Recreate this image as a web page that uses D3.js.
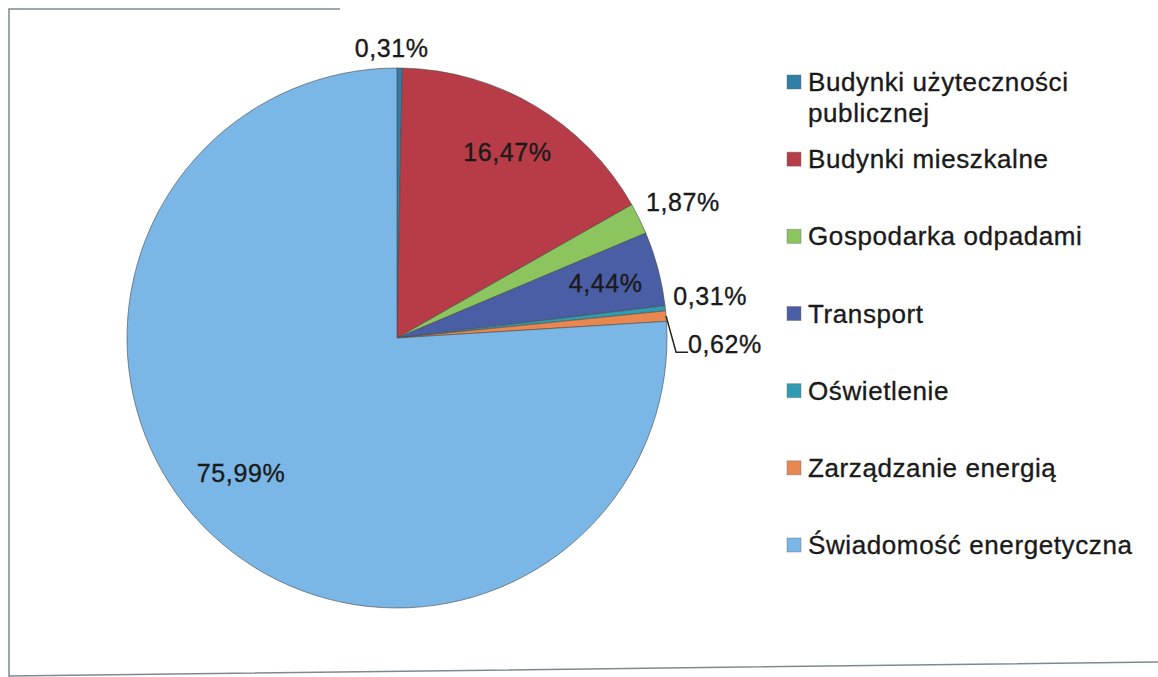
<!DOCTYPE html>
<html>
<head>
<meta charset="utf-8">
<script src="https://cdn.jsdelivr.net/npm/d3@7"></script>
<style>
  body { margin: 0; background: #fff; }
  text { font-family: "Liberation Sans", Arial, sans-serif; fill: #1a1a1a; stroke: #1a1a1a; stroke-width: 0.35px; }
</style>
</head>
<body>
<script>
w = 1158;
h = 677;

// data
categories = [
  'Budynki użyteczności publicznej',
  'Budynki mieszkalne',
  'Gospodarka odpadami',
  'Transport',
  'Oświetlenie',
  'Zarządzanie energią',
  'Świadomość energetyczna'
];
values = [0.31, 16.47, 1.87, 4.44, 0.31, 0.62, 75.99];
labels = ['0,31%', '16,47%', '1,87%', '4,44%', '0,31%', '0,62%', '75,99%'];
colors = ['#2f7fa8', '#b73c48', '#8cc45e', '#4a5ea6', '#2e9db3', '#e8874f', '#7ab6e6'];

cx = 397;
cy = 338;
r = 270;

let svg = d3.select('body')
  .append('svg')
  .attr('width', w)
  .attr('height', h);

// scanned frame: left edge, short top edge, slightly tilted bottom edge
svg.append('path')
  .attr('d', 'M340,9 L9,9 L9,677 M9,676 L1158,662')
  .attr('fill', 'none')
  .attr('stroke', '#80898e')
  .attr('stroke-width', 1.5);

let pie = d3.pie().sort(null).value(d => d);
let arcs = pie(values);

let arc = d3.arc().innerRadius(0).outerRadius(r);
let inner = d3.arc().innerRadius(r * 0.8).outerRadius(r * 0.8);

let g = svg.append('g').attr('transform', `translate(${cx}, ${cy})`);

g.selectAll('path')
  .data(arcs)
  .enter()
  .append('path')
  .attr('d', arc)
  .attr('fill', (d, i) => colors[i])
  .attr('stroke', '#4a4a4a')
  .attr('stroke-opacity', 0.6)
  .attr('stroke-width', 1);

// big slices get the label inside, small ones outside
let isInside = d => (d.endAngle - d.startAngle) > 0.2;
let mid = d => (d.startAngle + d.endAngle) / 2;
let nudge = { 5: 38 }; // 0,62% pushed down with a leader line

let lab = g.selectAll('text.lab')
  .data(arcs)
  .enter()
  .append('text')
  .attr('class', 'lab')
  .style('font-size', '25px')
  .style('letter-spacing', '0.6px')
  .text((d, i) => labels[i]);

lab.each(function(d, i) {
  let t = d3.select(this);
  if (isInside(d)) {
    let c = inner.centroid(d);
    if (i === 6) c = [c[0] - 8, c[1] - 22];
    t.attr('x', c[0]).attr('y', c[1] + 9).attr('text-anchor', 'middle');
  } else {
    let a = mid(d);
    let px = Math.sin(a) * (r + 12);
    let py = -Math.cos(a) * (r + 12);
    if (Math.abs(Math.sin(a)) < 0.3) {
      t.attr('x', px - 8).attr('y', py + 1).attr('text-anchor', 'middle');
    } else {
      let dy = nudge[i] || 0;
      t.attr('x', px - 4 + (dy ? 14 : 0)).attr('y', py + dy + (dy ? 0 : -2)).attr('text-anchor', 'start');
      if (dy) {
        let ex = Math.sin(a) * r, ey = -Math.cos(a) * r;
        g.append('path')
          .attr('d', `M${ex},${ey} L${px - 2},${py + dy - 1} L${px + 10},${py + dy - 1}`)
          .attr('fill', 'none')
          .attr('stroke', '#222')
          .attr('stroke-width', 1.5);
      }
    }
  }
});

// legend
let legendY = d3.scaleLinear().domain([0, 6]).range([82, 545]);

let leg = svg.selectAll('g.leg')
  .data(categories)
  .enter()
  .append('g')
  .attr('class', 'leg')
  .attr('transform', (d, i) => `translate(787, ${legendY(i)})`);

leg.append('rect')
  .attr('x', 0)
  .attr('y', -7)
  .attr('width', 14)
  .attr('height', 14)
  .attr('fill', (d, i) => colors[i])
  .attr('stroke', '#666')
  .attr('stroke-opacity', 0.4);

leg.append('text')
  .attr('x', 21)
  .attr('y', 9)
  .style('font-size', '26px')
  .style('letter-spacing', '0.6px')
  .each(function(d, i) {
    let t = d3.select(this);
    let lines = i === 0 ? ['Budynki użyteczności', 'publicznej'] : [d];
    lines.forEach((s, k) => {
      t.append('tspan').attr('x', 21).attr('dy', k ? 31 : 0).text(s);
    });
  });
</script>
</body>
</html>
